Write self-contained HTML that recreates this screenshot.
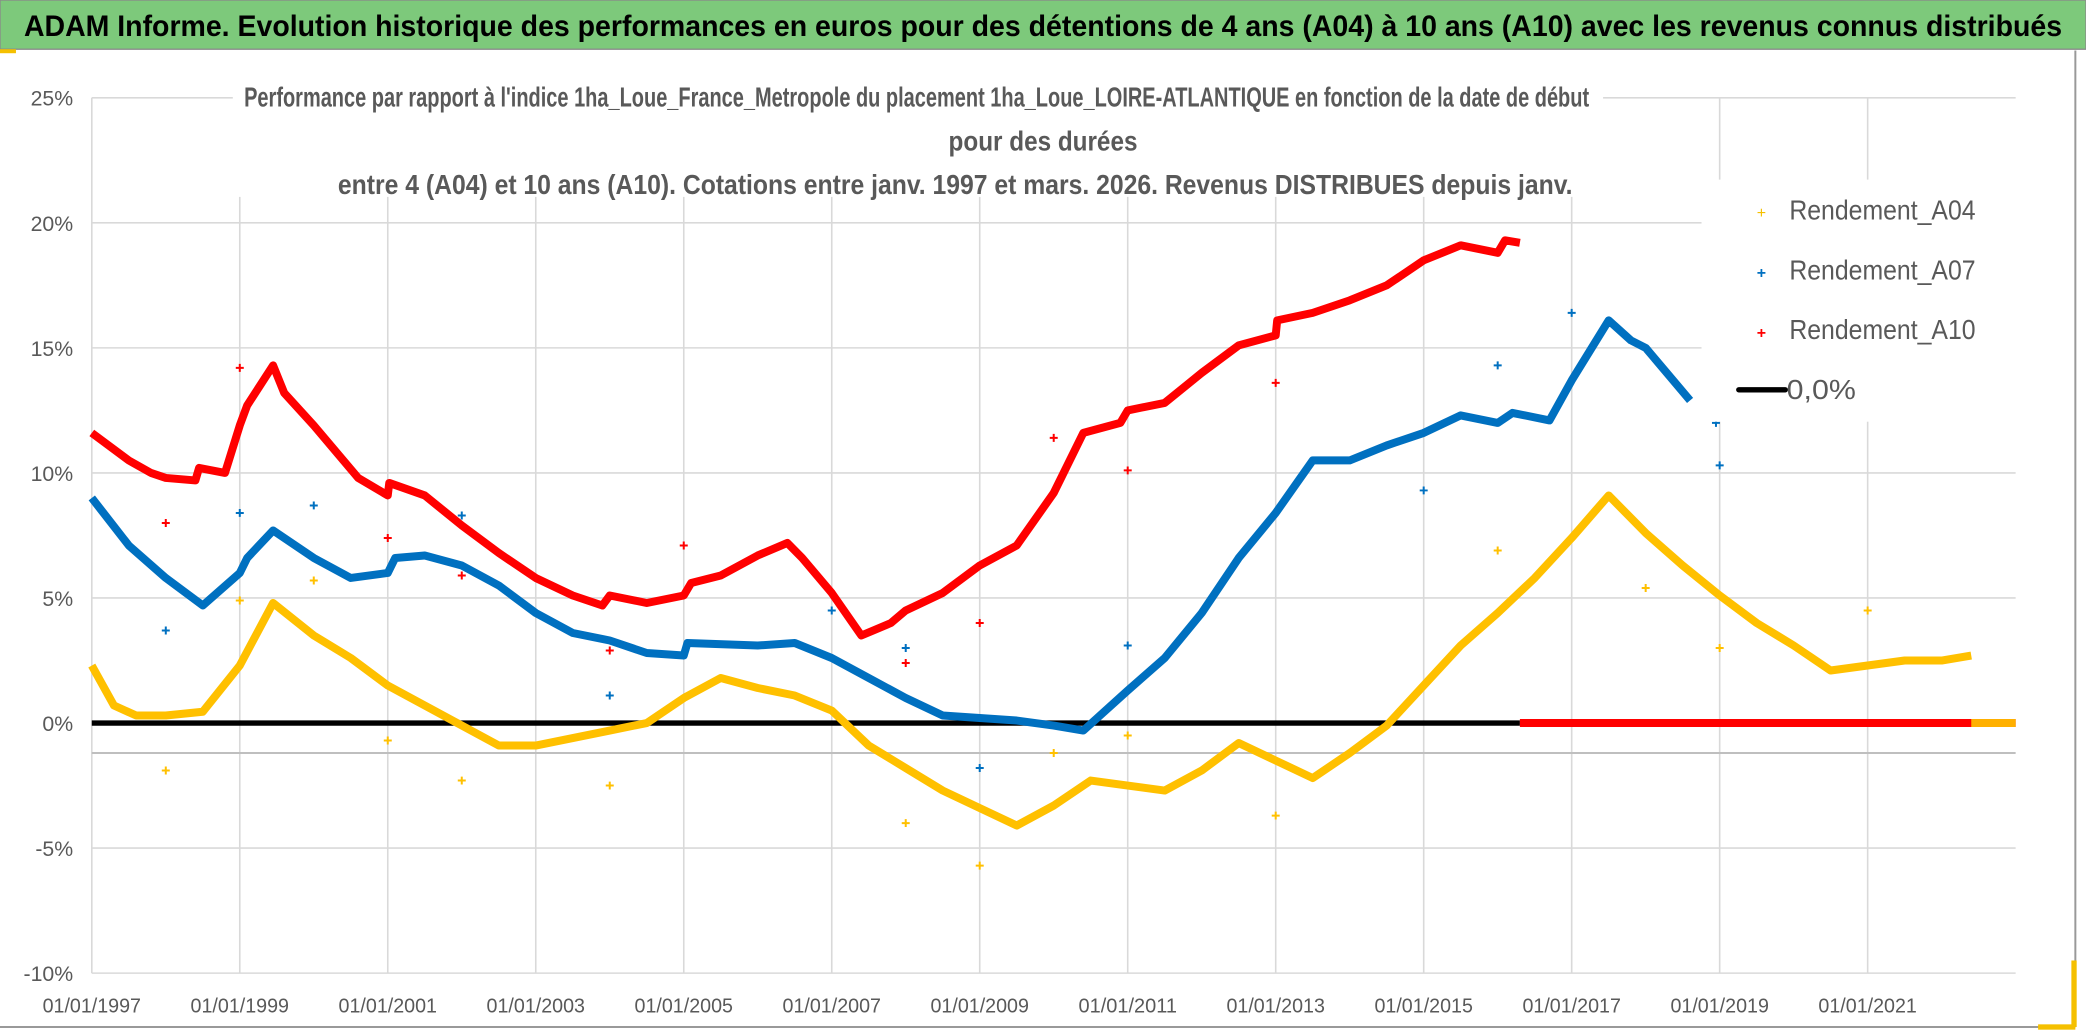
<!DOCTYPE html>
<html><head><meta charset="utf-8"><style>
html,body{margin:0;padding:0;background:#fff;}
svg{display:block;}
text{font-family:"Liberation Sans",sans-serif;}
</style></head><body>
<svg id="chart" width="2086" height="1031" viewBox="0 0 1568 775" preserveAspectRatio="none" xmlns="http://www.w3.org/2000/svg">
<rect x="0" y="0" width="1568" height="775" fill="#fff"/>
<rect x="0" y="0" width="1568" height="37" fill="#7dc97b" stroke="#8a8a8a" stroke-width="1"/>
<text x="784" y="27" text-anchor="middle" font-size="22" font-weight="bold" fill="#000" textLength="1532" lengthAdjust="spacingAndGlyphs">ADAM Informe. Evolution historique des performances en euros pour des détentions de 4 ans (A04) à 10 ans (A10) avec les revenus connus distribués</text>
<line x1="1560" y1="38" x2="1560" y2="772" stroke="#999" stroke-width="1.5"/>
<line x1="0" y1="772" x2="1560" y2="772" stroke="#999" stroke-width="1.5"/>
<rect x="1557" y="722" width="4" height="50" fill="#f5c000"/>
<rect x="1532" y="770" width="28" height="4" fill="#f5c000"/>
<rect x="0" y="37" width="12" height="3" fill="#f5c000"/>
<g id="grid"></g>
<g id="ylabels"></g>
<g id="xlabels"></g>
<g id="series"></g>
<rect x="175" y="58" width="1030" height="90" fill="#fff"/>
<text x="689" y="80" text-anchor="middle" font-size="21" font-weight="bold" fill="#595959" textLength="1011" lengthAdjust="spacingAndGlyphs">Performance par rapport à l'indice 1ha_Loue_France_Metropole  du placement 1ha_Loue_LOIRE-ATLANTIQUE en fonction de la date de début</text>
<text x="784" y="113" text-anchor="middle" font-size="21" font-weight="bold" fill="#595959" textLength="142" lengthAdjust="spacingAndGlyphs">pour des durées</text>
<text x="718" y="146" text-anchor="middle" font-size="21" font-weight="bold" fill="#595959" textLength="928" lengthAdjust="spacingAndGlyphs">entre 4 (A04) et 10 ans (A10). Cotations entre janv. 1997 et mars. 2026. Revenus DISTRIBUES depuis janv.</text>
<g>
<rect x="1279" y="135" width="241" height="182" fill="#fff"/>
<g><text x="1324" y="164" text-anchor="middle" font-size="12" fill="#f5c000">+</text><text x="1345" y="165" font-size="21" fill="#595959" textLength="140" lengthAdjust="spacingAndGlyphs">Rendement_A04</text></g>
<g><text x="1324" y="209" text-anchor="middle" font-size="12" font-weight="bold" fill="#0070c0">+</text><text x="1345" y="210" font-size="21" fill="#595959" textLength="140" lengthAdjust="spacingAndGlyphs">Rendement_A07</text></g>
<g><text x="1324" y="254" text-anchor="middle" font-size="12" font-weight="bold" fill="#ff0000">+</text><text x="1345" y="255" font-size="21" fill="#595959" textLength="140" lengthAdjust="spacingAndGlyphs">Rendement_A10</text></g>
<g><line x1="1307" y1="293" x2="1342" y2="293" stroke="#000" stroke-width="4" stroke-linecap="round"/><text x="1343" y="300" font-size="21" fill="#595959" textLength="52" lengthAdjust="spacingAndGlyphs">0,0%</text></g>
</g>
</svg>
<script>
const yTicks = [25, 20, 15, 10, 5, 0, -5, -10];
const yTickLabels = ["25%", "20%", "15%", "10%", "5%", "0%", "-5%", "-10%"];
const xTicks = [1997, 1999, 2001, 2003, 2005, 2007, 2009, 2011, 2013, 2015, 2017, 2019, 2021];
const xTickLabels = ["01/01/1997","01/01/1999","01/01/2001","01/01/2003","01/01/2005","01/01/2007","01/01/2009","01/01/2011","01/01/2013","01/01/2015","01/01/2017","01/01/2019","01/01/2021"];

const a10Dates = [1997.0,1997.5,1997.8,1998.0,1998.4,1998.45,1998.8,1999.0,1999.1,1999.45,1999.6,2000.0,2000.4,2000.6,2001.0,2001.02,2001.5,2002.0,2002.5,2003.0,2003.5,2003.9,2004.0,2004.5,2005.0,2005.1,2005.5,2006.0,2006.4,2006.6,2007.0,2007.4,2007.8,2008.0,2008.5,2009.0,2009.5,2010.0,2010.4,2010.9,2011.0,2011.5,2012.0,2012.5,2013.0,2013.02,2013.5,2014.0,2014.5,2015.0,2015.5,2016.0,2016.1,2016.3];
const a10Values = [11.6,10.5,10.0,9.8,9.7,10.2,10.0,11.9,12.7,14.3,13.2,11.9,10.5,9.8,9.1,9.6,9.1,7.9,6.8,5.8,5.1,4.7,5.1,4.8,5.1,5.6,5.9,6.7,7.2,6.6,5.2,3.5,4.0,4.5,5.2,6.3,7.1,9.2,11.6,12.0,12.5,12.8,14.0,15.1,15.5,16.1,16.4,16.9,17.5,18.5,19.1,18.8,19.3,19.2];
const a10ZeroDates = [2016.3, 2023.0];
const a10ZeroValues = [0, 0];

const a07Dates = [1997.0,1997.5,1998.0,1998.5,1999.0,1999.1,1999.45,2000.0,2000.5,2001.0,2001.1,2001.5,2002.0,2002.5,2003.0,2003.5,2004.0,2004.5,2005.0,2005.05,2006.0,2006.5,2007.0,2007.5,2008.0,2008.5,2009.0,2009.5,2010.0,2010.4,2011.0,2011.5,2012.0,2012.5,2013.0,2013.5,2014.0,2014.5,2015.0,2015.5,2016.0,2016.2,2016.7,2017.0,2017.5,2017.8,2018.0,2018.6];
const a07Values = [9.0,7.1,5.8,4.7,6.0,6.6,7.7,6.6,5.8,6.0,6.6,6.7,6.3,5.5,4.4,3.6,3.3,2.8,2.7,3.2,3.1,3.2,2.6,1.8,1.0,0.3,0.2,0.1,-0.1,-0.3,1.3,2.6,4.4,6.6,8.4,10.5,10.5,11.1,11.6,12.3,12.0,12.4,12.1,13.7,16.1,15.3,15.0,12.9];

const a04Dates = [1997.0,1997.3,1997.6,1998.0,1998.5,1999.0,1999.45,2000.0,2000.5,2001.0,2001.5,2002.0,2002.5,2003.0,2003.5,2004.0,2004.5,2005.0,2005.5,2006.0,2006.5,2007.0,2007.5,2008.0,2008.5,2009.0,2009.5,2010.0,2010.5,2011.0,2011.5,2012.0,2012.5,2013.0,2013.5,2014.0,2014.5,2015.0,2015.5,2016.0,2016.5,2017.0,2017.5,2018.0,2018.5,2019.0,2019.5,2020.0,2020.5,2021.0,2021.5,2022.0,2022.4];
const a04Values = [2.3,0.7,0.3,0.3,0.45,2.3,4.8,3.5,2.6,1.5,0.7,-0.1,-0.9,-0.9,-0.6,-0.3,0.0,1.0,1.8,1.4,1.1,0.5,-0.9,-1.8,-2.7,-3.4,-4.1,-3.3,-2.3,-2.5,-2.7,-1.9,-0.8,-1.5,-2.2,-1.2,-0.1,1.5,3.1,4.4,5.8,7.4,9.1,7.6,6.3,5.1,4.0,3.1,2.1,2.3,2.5,2.5,2.7];
const a04ZeroDates = [2022.4, 2023.0];
const a04ZeroValues = [0, 0];

const a04OutDates = [1998.0,1999.0,2000.0,2001.0,2002.0,2004.0,2008.0,2009.0,2010.0,2011.0,2013.0,2016.0,2018.0,2019.0,2021.0];
const a04OutValues = [-1.9,4.9,5.7,-0.7,-2.3,-2.5,-4.0,-5.7,-1.2,-0.5,-3.7,6.9,5.4,3.0,4.5];
const a07OutDates = [1998.0,1999.0,2000.0,2002.0,2004.0,2007.0,2008.0,2009.0,2011.0,2015.0,2016.0,2017.0,2019.0,2018.95];
const a07OutValues = [3.7,8.4,8.7,8.3,1.1,4.5,3.0,-1.8,3.1,9.3,14.3,16.4,10.3,12.0];
const a10OutDates = [1998.0,1999.0,2001.0,2002.0,2004.0,2005.0,2008.0,2009.0,2010.0,2011.0,2013.0];
const a10OutValues = [8.0,14.2,7.4,5.9,2.9,7.1,2.4,4.0,11.4,10.1,13.6];

const zeroDates = [1997.0, 2016.3];
const zeroValues = [0, 0];

const X0 = 69, PXY = 55.62, Y0 = 543.5, PXP = 18.8;
function xs(d){ return X0 + (d - 1997) * PXY; }
function ys(v){ return Y0 - v * PXP; }
const NS = "http://www.w3.org/2000/svg";
function mk(tag, parent){ const e = document.createElementNS(NS, tag); parent.appendChild(e); return e; }

const grid = document.getElementById('grid');
yTicks.forEach(function(t){
  const l = mk('line', grid);
  
  
  l.setAttribute('x1', xs(1997)); l.setAttribute('x2', xs(2023));
  l.setAttribute('y1', ys(t)); l.setAttribute('y2', ys(t));
  l.setAttribute('stroke', '#d9d9d9'); l.setAttribute('stroke-width', '1.2');
});
xTicks.forEach(function(t){
  const l = mk('line', grid);
  
  
  l.setAttribute('x1', xs(t)); l.setAttribute('x2', xs(t));
  l.setAttribute('y1', ys(25)); l.setAttribute('y2', ys(-10));
  l.setAttribute('stroke', '#d9d9d9'); l.setAttribute('stroke-width', '1.2');
});
const ref = mk('line', grid);


ref.setAttribute('x1', xs(1997)); ref.setAttribute('x2', xs(2023));
ref.setAttribute('y1', 566); ref.setAttribute('y2', 566);
ref.setAttribute('stroke', '#bfbfbf'); ref.setAttribute('stroke-width', '1.5');

const yl = document.getElementById('ylabels');
yTicks.forEach(function(t, i){
  const e = mk('text', yl);
  
  
  e.setAttribute('x', 55); e.setAttribute('y', ys(t) + 6);
  e.setAttribute('text-anchor', 'end'); e.setAttribute('font-size', '16'); e.setAttribute('fill', '#595959');
  e.textContent = yTickLabels[i];
});
const xl = document.getElementById('xlabels');
xTicks.forEach(function(t, i){
  const e = mk('text', xl);
  
  
  e.setAttribute('x', xs(t)); e.setAttribute('y', 761);
  e.setAttribute('text-anchor', 'middle'); e.setAttribute('font-size', '15'); e.setAttribute('fill', '#595959');
  e.setAttribute('textLength', '74'); e.setAttribute('lengthAdjust', 'spacingAndGlyphs');
  e.textContent = xTickLabels[i];
});

const sg = document.getElementById('series');
function line(dates, vals, color, w, name){
  const p = mk('polyline', sg);
  
  
  p.setAttribute('points', dates.map(function(d, i){ return xs(d) + ',' + ys(vals[i]); }).join(' '));
  p.setAttribute('fill', 'none'); p.setAttribute('stroke', color);
  p.setAttribute('stroke-width', w); p.setAttribute('stroke-linejoin', 'round');
}
function pts(dates, vals, color, name){
  dates.forEach(function(d, i){
    const x = xs(d), y = ys(vals[i]);
    const p = mk('path', sg);
    
    
    p.setAttribute('d', 'M' + (x - 3) + ' ' + y + 'H' + (x + 3) + 'M' + x + ' ' + (y - 3) + 'V' + (y + 3));
    p.setAttribute('stroke', color); p.setAttribute('stroke-width', '1.5');
  });
}
line(zeroDates, zeroValues, '#000', 4, 'zero-line');
line(a04Dates, a04Values, '#ffc000', 6, 'series-a04');
line(a07Dates, a07Values, '#0070c0', 6, 'series-a07');
line(a10Dates, a10Values, '#ff0000', 6, 'series-a10');
line(a10ZeroDates, a10ZeroValues, '#ff0000', 6, 'series-a10-zero');
line(a04ZeroDates, a04ZeroValues, '#ffb000', 6, 'series-a04-zero');
pts(a04OutDates, a04OutValues, '#ffc000', 'a04-point');
pts(a07OutDates, a07OutValues, '#0070c0', 'a07-point');
pts(a10OutDates, a10OutValues, '#ff0000', 'a10-point');
</script>
</body></html>
